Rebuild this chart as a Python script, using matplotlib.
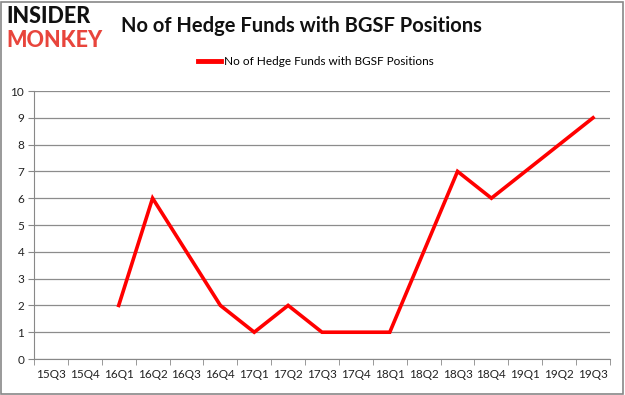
import matplotlib
matplotlib.use("Agg")
import matplotlib.pyplot as plt
from matplotlib.patches import Rectangle

plt.rcParams["font.family"] = ["Lato", "DejaVu Sans"]

quarters = ["15Q3", "15Q4", "16Q1", "16Q2", "16Q3", "16Q4", "17Q1", "17Q2", "17Q3",
            "17Q4", "18Q1", "18Q2", "18Q3", "18Q4", "19Q1", "19Q2", "19Q3"]
funds = [None, None, 2, 6, 4, 2, 1, 2, 1, 1, 1, 4, 7, 6, 7, 8, 9]
series_label = "No of Hedge Funds with BGSF Positions"
title = "No of Hedge Funds with BGSF Positions"
yticks = list(range(0, 11))

fig = plt.figure(figsize=(6.25, 3.95), dpi=100)
ax = fig.add_axes([0.0544, 0.0911, 0.9216, 0.6785])

xs = [i for i, v in enumerate(funds) if v is not None]
ys = [v for v in funds if v is not None]
ax.plot(xs, ys, color="#ff0000", lw=2.6, solid_joinstyle="miter", label=series_label)

ax.set_xlim(-0.5, len(quarters) - 0.5)
ax.set_ylim(0, 10)
ax.set_yticks(yticks)
ax.set_xticks(range(len(quarters)))
ax.set_xticklabels(quarters)
ax.set_xticks([i - 0.5 for i in range(len(quarters) + 1)], minor=True)
ax.tick_params(axis="x", which="major", length=0, pad=7, labelsize=8.5, colors="#222222")
ax.tick_params(axis="x", which="minor", length=4, color="#888888", direction="out")
ax.tick_params(axis="y", length=4, color="#888888", labelsize=8.5, colors="#222222", pad=3)
ax.grid(axis="y", color="#8c8c8c", lw=0.9)
ax.set_axisbelow(True)
for s in ["top", "right"]:
    ax.spines[s].set_visible(False)
for s in ["left", "bottom"]:
    ax.spines[s].set_color("#888888")

fig.text(0.193, 0.935, title, fontsize=14.5, fontweight="bold", va="center", ha="left",
         color="#111111")
fig.text(0.010, 0.958, "INSIDER", fontsize=15.5, fontweight="black", color="#111111",
         va="center", ha="left")
fig.text(0.010, 0.898, "MONKEY", fontsize=15.5, fontweight="black", color="#e8453c",
         va="center", ha="left")

leg = fig.legend(loc="center", bbox_to_anchor=(0.505, 0.845), frameon=False, fontsize=8.5,
                 handlelength=2.0, handletextpad=0.2)
for h in leg.get_lines():
    h.set_linewidth(3.5)

fig.patches.append(Rectangle((0.002, 0.003), 0.995, 0.993, transform=fig.transFigure,
                             fill=False, edgecolor="#888888", lw=1.2))

fig.savefig("out.png", dpi=100)
